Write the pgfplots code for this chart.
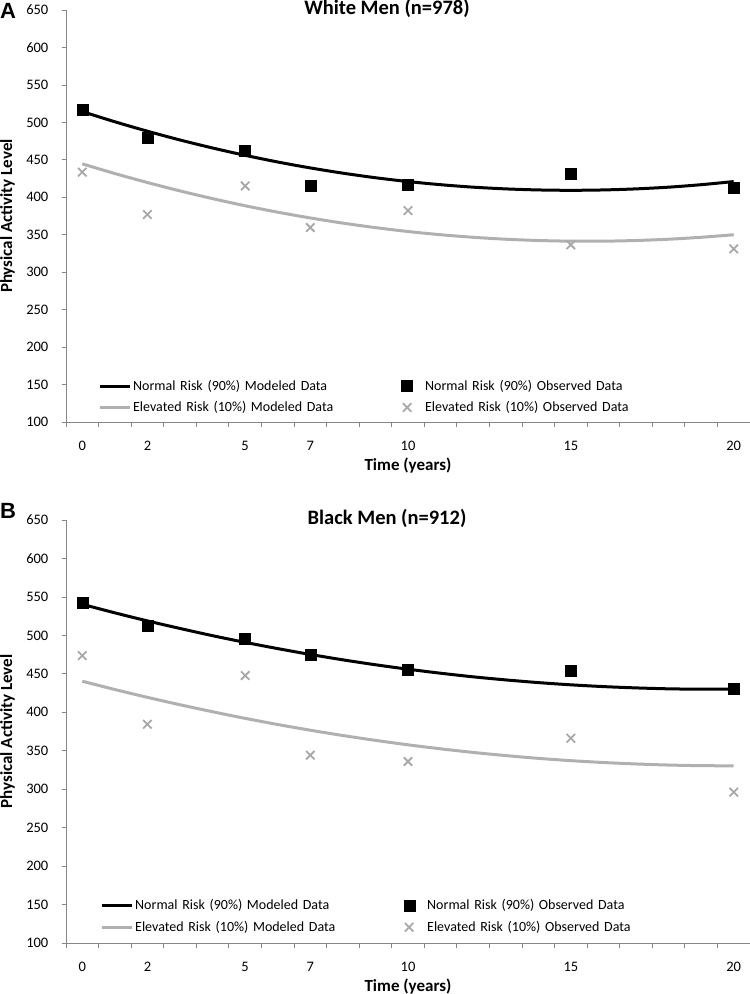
\documentclass[border=0pt]{standalone}
\usepackage{fontspec}
\setmainfont{Carlito}
\newfontfamily\arialfont{Liberation Sans}
\usepackage{pgfplots}
\usepackage{pgfplotstable}
\pgfplotsset{compat=1.18}
\definecolor{axgray}{HTML}{868686}
\definecolor{lgray}{HTML}{B0B0B0}
\definecolor{mgray}{HTML}{A8A8A8}
\newcommand{\tickfont}{\fontsize{14.5bp}{16bp}\selectfont}

% Panel A: modeled curves (at each year)
\pgfplotstableread{
x n e
0 514.4 444.6
1 500.8 431.7
2 488.2 419.7
3 476.5 408.5
4 465.8 398.2
5 456.0 388.7
6 447.1 380.1
7 439.2 372.4
8 432.2 365.5
9 426.1 359.5
10 421.0 354.3
11 416.8 350.0
12 413.5 346.6
13 411.2 344.0
14 409.8 342.3
15 409.3 341.4
16 409.8 341.4
17 411.2 342.3
18 413.5 344.0
19 416.8 346.6
20 421.0 350.0
}\Amod
\pgfplotstableread{
x n e
0 517.5 433.5
2 480.0 377.0
5 462.8 415.2
7 416.0 359.6
10 417.0 382.3
15 431.2 336.5
20 413.0 331.2
}\Aobs
% Panel B
\pgfplotstableread{
x n e
0 540.4 440.4
1 529.3 429.6
2 518.8 419.4
3 509.0 409.8
4 499.6 400.7
5 490.9 392.1
6 482.8 384.1
7 475.2 376.7
8 468.2 369.8
9 461.8 363.5
10 456.0 357.7
11 450.8 352.5
12 446.1 347.8
13 442.1 343.7
14 438.6 340.1
15 435.7 337.1
16 433.4 334.7
17 431.7 332.8
18 430.5 331.4
19 430.0 330.6
20 430.0 330.4
}\Bmod
\pgfplotstableread{
x n e
0 542.2 473.7
2 512.7 384.5
5 495.8 447.7
7 474.6 344.2
10 455.5 336.0
15 453.8 366.3
20 431.3 296.2
}\Bobs

\pgfplotsset{
  panel/.style={
    scale only axis, width=684bp, anchor=south west,
    font=\tickfont,
    xmin=-0.5, xmax=20.5, ymin=100, ymax=650,
    axis x line*=bottom, axis y line*=left,
    axis line style={-, axgray, line width=0.9bp},
    xtick={0,2,5,7,10,15,20},
    xticklabels={0,2,5,7,10,15,20},
    major x tick style={draw=none},
    minor xtick={-0.5,0.5,...,20.5},
    ytick={100,150,...,650},
    yticklabels={100,150,200,250,300,350,400,450,500,550,600,650},
    every tick/.style={axgray, line width=0.8bp},
    tick align=outside, major tick length=4.5bp, minor tick length=4.5bp,
    /pgf/number format/assume math mode=true,
    every tick label/.append style={font=\tickfont},
    xticklabel style={font=\tickfont, anchor=base, yshift=-23.5bp},
    yticklabel style={font=\tickfont, anchor=east, inner sep=0pt, xshift=-13bp},
    xlabel={Time (years)},
    xlabel style={at={(axis description cs:0.5,0)}, anchor=base, yshift=-48bp, font=\bfseries\fontsize{17bp}{19bp}\selectfont},
    ylabel={Physical Activity Level},
    ylabel style={at={(axis description cs:0,0.5)}, anchor=center, yshift=58.5bp, font=\bfseries\fontsize{17bp}{19bp}\selectfont},
    every axis title shift=0pt,
    title style={at={(axis description cs:0.5,1)}, anchor=base, xshift=-21bp, yshift=-4.8bp, font=\bfseries\fontsize{20.5bp}{22bp}\selectfont},
    legend columns=2,
    legend cell align=left,
    legend style={draw=none, fill=none, inner sep=0pt, outer sep=0pt,
      anchor=north west, font=\fontsize{14bp}{16bp}\selectfont,
      nodes={text width=258bp, inner sep=2bp, align=left},
      /tikz/row sep=5bp, /tikz/column sep=0pt},
  },
  modline/.style={smooth, line width=3bp,
    legend image code/.code={\draw[##1] (0bp,0bp) -- (30bp,0bp);}},
  obsmark/.style={only marks,
    legend image code/.code={\path[draw=none] (0bp,0bp) -- (30bp,0bp); \draw[##1, only marks] plot coordinates {(14bp,0bp)};}},
}

\begin{document}
\fontsize{14bp}{16bp}\selectfont
\begin{tikzpicture}[font=\fontsize{14bp}{16bp}\selectfont]
\useasboundingbox (0,0) rectangle (750bp,-994bp);
\node[anchor=base west, inner sep=0pt, font=\arialfont\bfseries\fontsize{22bp}{24bp}\selectfont] at (0bp,-18bp) {A};
\node[anchor=base west, inner sep=0pt, font=\arialfont\bfseries\fontsize{22bp}{24bp}\selectfont] at (0bp,-518bp) {B};

\begin{axis}[panel, at={(66bp,-422bp)}, height=412bp,
  title={White Men (n=978)},
  legend style={at={(axis description cs:0.047,0.107)}}]
\addplot[modline, black] table[x=x,y=n] {\Amod};
\addlegendentry{Normal Risk (90\%) Modeled Data}
\addplot[obsmark, mark=square*, mark size=5.5bp, black, mark options={fill=black}] table[x=x,y=n] {\Aobs};
\addlegendentry{Normal Risk (90\%) Observed Data}
\addplot[modline, lgray] table[x=x,y=e] {\Amod};
\addlegendentry{Elevated Risk (10\%) Modeled Data}
\addplot[obsmark, mark=x, mark size=6bp, mgray, line width=1.8bp] table[x=x,y=e] {\Aobs};
\addlegendentry{Elevated Risk (10\%) Observed Data}
\end{axis}

\begin{axis}[panel, at={(66bp,-943bp)}, height=423bp,
  title={Black Men (n=912)},
  legend style={at={(axis description cs:0.05,0.107)}}]
\addplot[modline, black] table[x=x,y=n] {\Bmod};
\addlegendentry{Normal Risk (90\%) Modeled Data}
\addplot[obsmark, mark=square*, mark size=5.5bp, black, mark options={fill=black}] table[x=x,y=n] {\Bobs};
\addlegendentry{Normal Risk (90\%) Observed Data}
\addplot[modline, lgray] table[x=x,y=e] {\Bmod};
\addlegendentry{Elevated Risk (10\%) Modeled Data}
\addplot[obsmark, mark=x, mark size=6bp, mgray, line width=1.8bp] table[x=x,y=e] {\Bobs};
\addlegendentry{Elevated Risk (10\%) Observed Data}
\end{axis}
\end{tikzpicture}
\end{document}
